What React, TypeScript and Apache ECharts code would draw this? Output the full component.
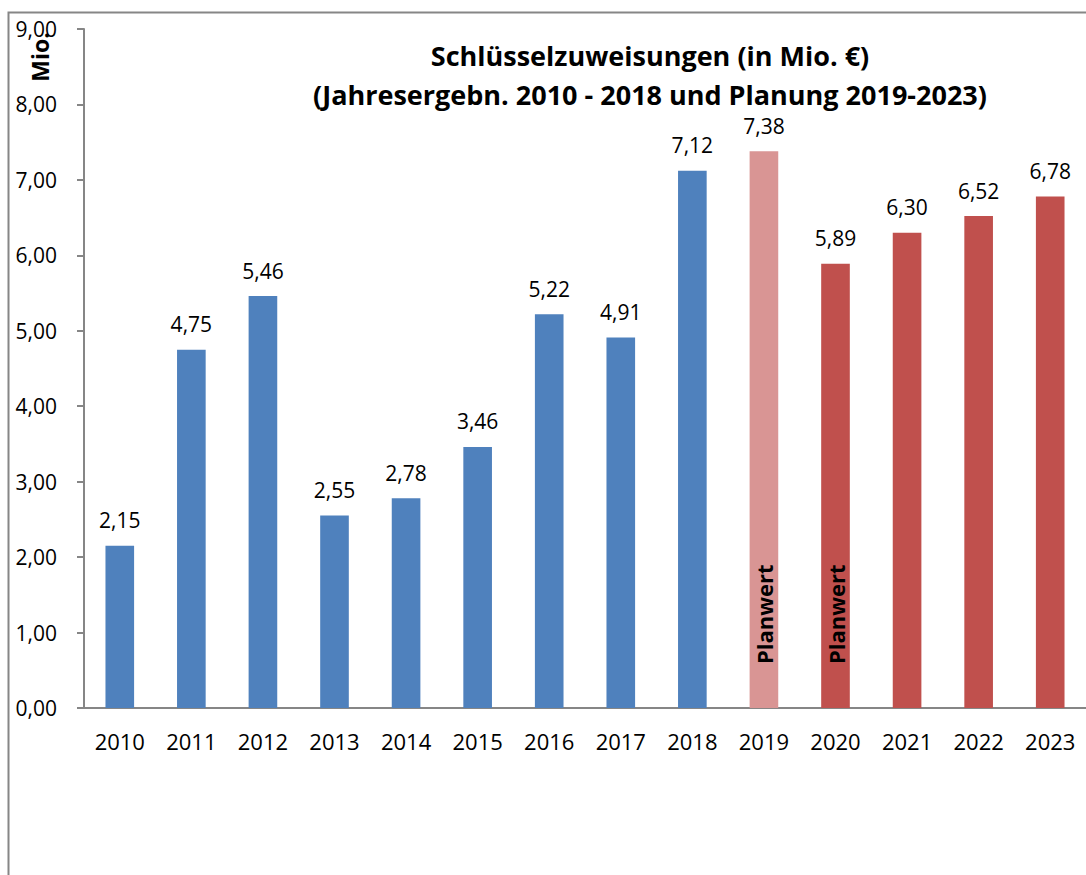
import React, { useEffect, useRef } from "react";
import * as echarts from "echarts";

const years = ["2010", "2011", "2012", "2013", "2014", "2015", "2016", "2017", "2018", "2019", "2020", "2021", "2022", "2023"];
const values = [2.15, 4.75, 5.46, 2.55, 2.78, 3.46, 5.22, 4.91, 7.12, 7.38, 5.89, 6.3, 6.52, 6.78];
const kinds = ["ist", "ist", "ist", "ist", "ist", "ist", "ist", "ist", "ist", "plan1", "plan", "plan", "plan", "plan"];
const planwertYears = ["2019", "2020"];
const yTicks = { min: 0, max: 9, interval: 1 };

const colorOf: Record<string, string> = { ist: "#4F81BD", plan1: "#D99594", plan: "#C0504D" };
const FONT = "'Open Sans', 'Noto Sans', sans-serif";
const fmt = (v: number) => v.toFixed(2).replace(".", ",");

export default function App() {
  const ref = useRef<HTMLDivElement>(null);
  useEffect(() => {
    const chart = echarts.init(ref.current!, null, { renderer: "svg" });
    chart.setOption({
      animation: false,
      backgroundColor: "#fff",
      textStyle: { fontFamily: FONT },
      title: {
        text: "Schlüsselzuweisungen (in Mio. €)\n(Jahresergebn. 2010 - 2018 und Planung 2019-2023)",
        left: 645,
        top: 31,
        textAlign: "center",
        textStyle: { fontFamily: FONT, fontWeight: "bold", fontSize: 27, color: "#000", lineHeight: 39 },
      },
      graphic: [
        { type: "rect", shape: { x: 8.5, y: 12.5, width: 1200, height: 1000 }, style: { fill: "none", stroke: "#868686", lineWidth: 2 }, silent: true, z: -1 },
        { type: "text", x: 40, y: 57, rotation: Math.PI / 2, style: { text: "Mio.", font: `bold 23px ${FONT}`, fill: "#000", textAlign: "center", textVerticalAlign: "middle" } },
      ],
      grid: { left: 84, top: 29, bottom: 167, width: 1006, containLabel: false },
      xAxis: {
        type: "category",
        data: years,
        axisLine: { lineStyle: { color: "#868686", width: 2 } },
        axisTick: { show: false },
        axisLabel: { color: "#000", fontSize: 22, fontFamily: FONT, margin: 22 },
      },
      yAxis: {
        type: "value",
        min: yTicks.min,
        max: yTicks.max,
        interval: yTicks.interval,
        splitLine: { show: false },
        axisLine: { show: true, lineStyle: { color: "#868686", width: 2 } },
        axisTick: { show: true, length: 7, lineStyle: { color: "#868686", width: 2 } },
        axisLabel: { color: "#000", fontSize: 21, fontFamily: FONT, margin: 27, formatter: (v: number) => fmt(v) },
      },
      series: [
        {
          type: "bar",
          barWidth: "40%",
          data: values.map((v, i) => ({ value: v, itemStyle: { color: colorOf[kinds[i]] } })),
          label: {
            show: true,
            position: "top",
            distance: 15,
            color: "#000",
            fontSize: 21,
            fontFamily: FONT,
            formatter: (p: any) => fmt(p.value),
          },
        },
        {
          type: "bar",
          barWidth: "40%",
          barGap: "-100%",
          silent: true,
          itemStyle: { color: "transparent" },
          data: years.map((y, i) => (planwertYears.includes(y) ? values[i] : "-")),
          label: {
            show: true,
            position: "insideBottom",
            rotate: 90,
            align: "left",
            verticalAlign: "middle",
            distance: 44,
            color: "#000",
            fontSize: 22,
            fontWeight: "bold",
            fontFamily: FONT,
            formatter: () => "Planwert",
          },
        },
      ],
    });
    return () => chart.dispose();
  }, []);
  return <div ref={ref} style={{ position: "fixed", left: 0, top: 0, width: 1086, height: 875 }} />;
}
